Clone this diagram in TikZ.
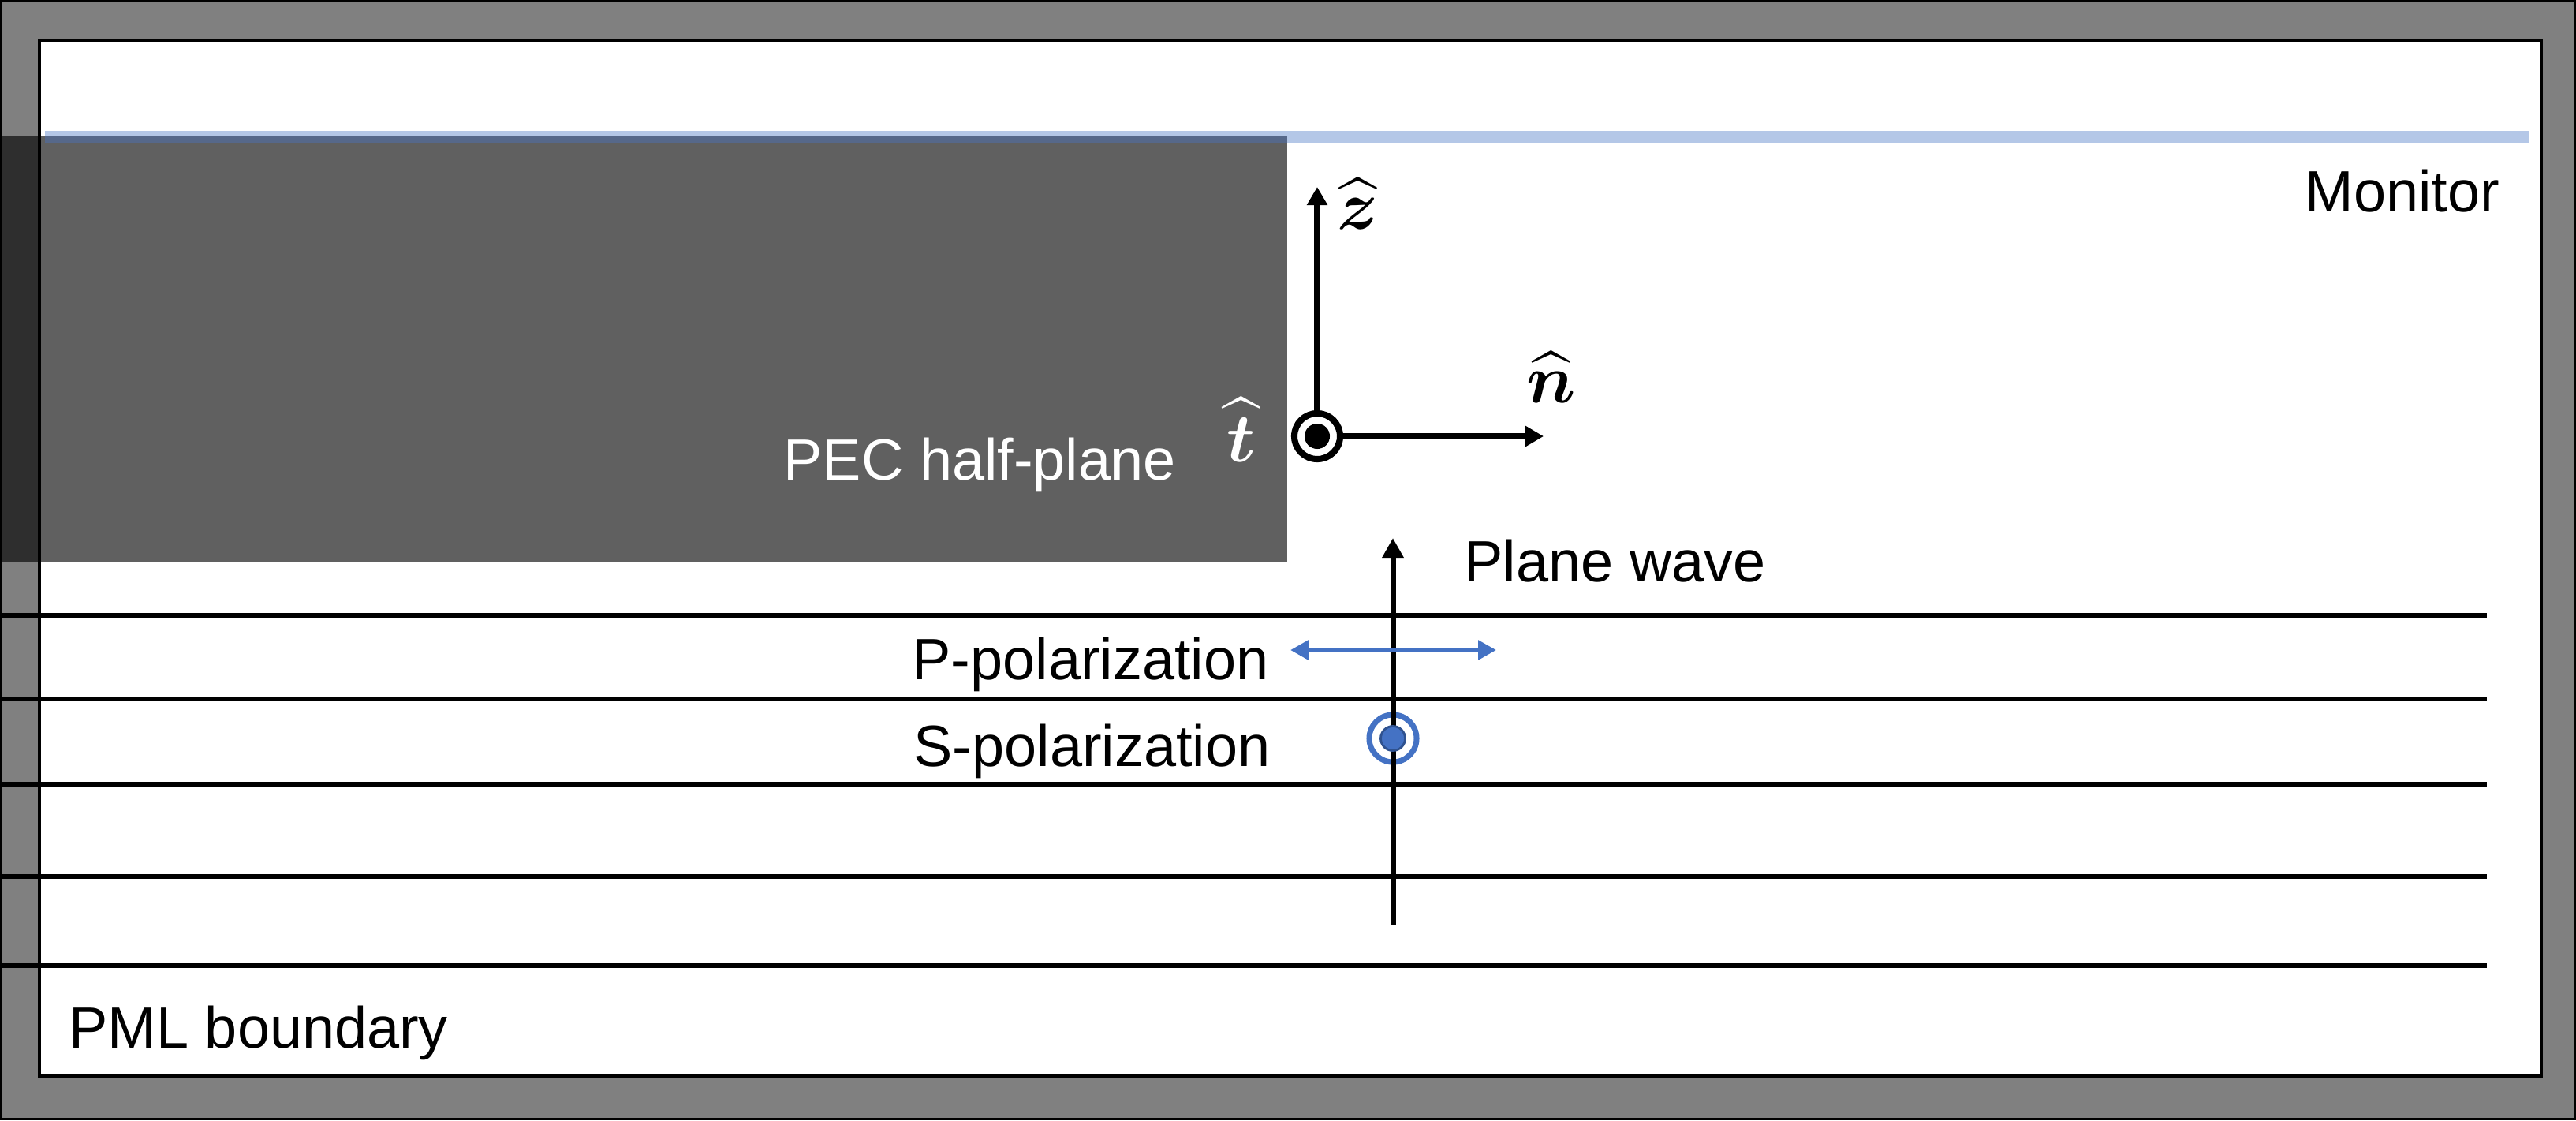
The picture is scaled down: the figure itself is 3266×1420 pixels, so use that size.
\documentclass[tikz,border=0pt]{standalone}
\usepackage{fontspec}
\setmainfont{Liberation Sans}
\usepackage{amsmath}
\usetikzlibrary{arrows.meta}
\definecolor{framegray}{HTML}{808080}
\definecolor{pecgray}{HTML}{606060}
\definecolor{pecdark}{HTML}{2E2E2E}
\definecolor{monblue}{HTML}{B4C7E7}
\definecolor{mondark}{HTML}{56688A}
\definecolor{polblue}{HTML}{4472C4}
\definecolor{dotedge}{HTML}{2F528F}
\begin{document}
\begin{tikzpicture}[x=0.01cm,y=-0.01cm,
  lbl/.style={font=\fontsize{21}{25}\selectfont, inner sep=0pt, anchor=base west},
  hatlbl/.style={font=\fontsize{27}{31}\selectfont, inner sep=0pt},
  pmlline/.style={line width=1.6pt},
  axisarrow/.style={line width=2.2pt, -{Triangle[length=0.23cm,width=0.25cm]}},
  wavearrow/.style={line width=2pt, -{Triangle[length=0.25cm,width=0.26cm]}},
  polarrow/.style={polblue, line width=1.7pt, {Triangle[length=0.23cm,width=0.24cm]}-{Triangle[length=0.23cm,width=0.24cm]}}]
\useasboundingbox (0,0) rectangle (3266,1420);
% outer PML frame
\fill[framegray] (0,0) rectangle (3266,1420);
\draw[line width=0.9pt] (1.5,1.5) rectangle (3264.5,1418.5);
% simulation region
\fill[white] (50,51) rectangle (3222,1364);
% PEC half-plane
\fill[pecgray] (50,173) rectangle (1632,713);
\fill[pecdark] (3,173) rectangle (50,713);
% monitor
\fill[monblue] (57,166) rectangle (3207,181);
\fill[mondark] (57,173) rectangle (1632,181);
% inner border
\draw[line width=1.3pt] (50,51) rectangle (3222,1364);
% horizontal lines
\foreach \yy in {780,886,994,1111,1224}
  \draw[pmlline] (3,\yy) -- (3153,\yy);
% S-polarization ring (under the wave line)
\node[circle, draw=polblue, line width=2pt, minimum size=0.6cm, inner sep=0pt] (sring) at (1766,936) {};
% plane wave arrow
\coordinate (pwbot) at (1766,1173);
\coordinate (pwtop) at (1766,682);
\draw[wavearrow] (pwbot) -- (pwtop);
% S-polarization dot
\node[circle, fill=polblue, draw=dotedge, line width=0.8pt, minimum size=0.31cm, inner sep=0pt] (sdot) at (sring.center) {};
% P-polarization arrow
\coordinate (pl) at (1636,824);
\coordinate (pr) at (1897,824);
\draw[polarrow] (pl) -- (pr);
% axes
\node[circle, draw, fill=white, line width=2.3pt, minimum size=0.58cm, inner sep=0pt] (o) at (1670,553) {};
\fill (o.center) circle (0.16cm);
\coordinate (ztip) at (1670,237);
\coordinate (ntip) at (1957,553);
\draw[axisarrow] (o.north) -- (ztip);
\draw[axisarrow] (o.east) -- (ntip);
% hat labels
\node[hatlbl] (zhat) at (1722,258) {$\widehat{\boldsymbol{z}}$};
\node[hatlbl] (nhat) at (1967,478) {$\widehat{\boldsymbol{n}}$};
\node[hatlbl, text=white] (that) at (1574,545) {$\widehat{\boldsymbol{t}}$};
% text labels
\node[lbl] (monitor) at (2922,268) {Monitor};
\node[lbl, text=white] (pec) at (993,608) {PEC half-plane};
\node[lbl] (plane) at (1856,737) {Plane wave};
\node[lbl] (ppol) at (1156,861) {P-polarization};
\node[lbl] (spol) at (1158,971) {S-polarization};
\node[lbl] (pml) at (87,1328) {PML boundary};
\end{tikzpicture}
\end{document}
